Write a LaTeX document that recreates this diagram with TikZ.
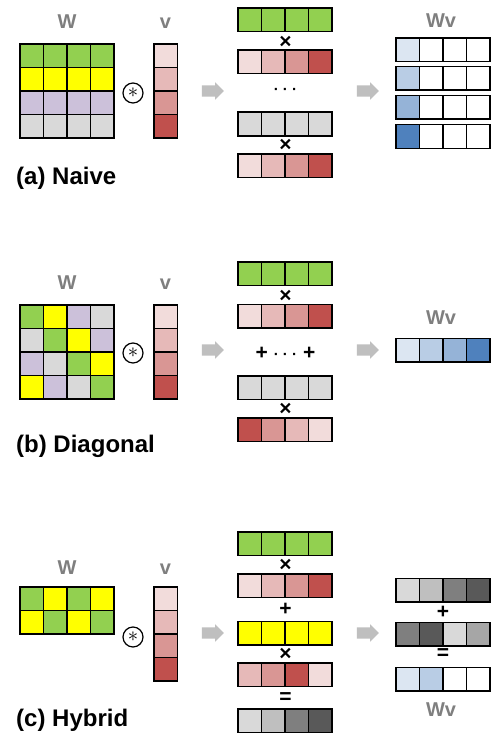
\documentclass[tikz,border=0pt]{standalone}
\usepackage{fontspec}
\setmainfont{Liberation Sans}
\usetikzlibrary{shapes.arrows, positioning}
\definecolor{wgreen}{HTML}{92D050}
\definecolor{wyellow}{HTML}{FFFF00}
\definecolor{wlav}{HTML}{CCC1DA}
\definecolor{wgray}{HTML}{D9D9D9}
\definecolor{pkA}{HTML}{F2DCDB}
\definecolor{pkB}{HTML}{E6B9B8}
\definecolor{pkC}{HTML}{D99694}
\definecolor{pkD}{HTML}{C0504D}
\definecolor{blA}{HTML}{DCE6F2}
\definecolor{blB}{HTML}{B9CDE5}
\definecolor{blC}{HTML}{95B3D7}
\definecolor{blD}{HTML}{4F81BD}
\definecolor{gyA}{HTML}{D9D9D9}
\definecolor{gyB}{HTML}{BFBFBF}
\definecolor{gyC}{HTML}{7F7F7F}
\definecolor{gyD}{HTML}{595959}
\definecolor{gyE}{HTML}{A6A6A6}
\definecolor{labelgray}{HTML}{7F7F7F}
\definecolor{arrowgray}{HTML}{BFBFBF}

% row of cells: name, left x, centre y, colours
\newcommand{\cellrow}[4]{\foreach \cl [count=\i] in {#4} {\node[cell, fill=\cl] (#1-\i) at ({#2+23.5*\i-11.75}, #3) {};}}
% column of cells: name, centre x, top y, colours
\newcommand{\cellcol}[4]{\foreach \cl [count=\i] in {#4} {\node[cell, fill=\cl] (#1-\i) at (#2, {#3+23.5*\i-11.75}) {};}}
% small dots
\newcommand{\vdotsrow}{{\fontsize{15}{15}\selectfont· · ·}}

\tikzset{
  cell/.style={draw=black, line width=1.5pt, minimum size=23.5pt, inner sep=0pt, outer sep=0pt},
  lbl/.style={text=labelgray, font=\fontsize{20}{20}\selectfont\bfseries},
  op/.style={font=\fontsize{21}{21}\selectfont\bfseries, inner sep=0pt},
  conv/.style={draw, circle, line width=1.2pt, minimum size=20pt, inner sep=0pt, font=\fontsize{22}{22}\selectfont},
  blockarrow/.style={single arrow, fill=arrowgray, minimum width=17pt, minimum height=22pt, single arrow head extend=3pt, inner sep=0pt},
  caption/.style={anchor=west, inner sep=0pt, font=\fontsize{24}{24}\selectfont\bfseries}
}

\begin{document}
\begin{tikzpicture}[x=1pt, y=-1pt]
  \useasboundingbox[fill=white] (0,0) rectangle (493,749);

  % (a) Naive
  \node[lbl] (a-wl) at (67,22) {W};
  \cellrow{a-w1}{20}{55.75}{wgreen,wgreen,wgreen,wgreen}
  \cellrow{a-w2}{20}{79.25}{wyellow,wyellow,wyellow,wyellow}
  \cellrow{a-w3}{20}{102.75}{wlav,wlav,wlav,wlav}
  \cellrow{a-w4}{20}{126.25}{wgray,wgray,wgray,wgray}
  \node[conv] (a-star) at (133,93) {$\ast$};
  \node[lbl] (a-vl) at (165.5,23) {v};
  \cellcol{a-v}{165.5}{44}{pkA,pkB,pkC,pkD}
  \node[blockarrow] (a-arr1) at (210,91) {\rule{0pt}{11pt}};

  \cellrow{a-r1}{238}{20}{wgreen,wgreen,wgreen,wgreen}
  \node[op] (a-x1) at (285.5,42) {×};
  \cellrow{a-p1}{238}{62}{pkA,pkB,pkC,pkD}
  \node[op] (a-dots) at (285.5,91) {\vdotsrow};
  \cellrow{a-r4}{238}{124}{wgray,wgray,wgray,wgray}
  \node[op] (a-x4) at (285.5,145) {×};
  \cellrow{a-p4}{238}{165.5}{pkA,pkB,pkC,pkD}
  \node[blockarrow] (a-arr2) at (365,91) {\rule{0pt}{11pt}};

  \node[lbl] (a-out) at (441,21) {Wv};
  \cellrow{a-o1}{396}{50}{blA,white,white,white}
  \cellrow{a-o2}{396}{78.5}{blB,white,white,white}
  \cellrow{a-o3}{396}{107.5}{blC,white,white,white}
  \cellrow{a-o4}{396}{136.5}{blD,white,white,white}
  \node[caption] (a-cap) at (16,178) {(a) Naive};

  % (b) Diagonal
  \node[lbl] (b-wl) at (67,283) {W};
  \cellrow{b-w1}{20}{316.75}{wgreen,wyellow,wlav,wgray}
  \cellrow{b-w2}{20}{340.25}{wgray,wgreen,wyellow,wlav}
  \cellrow{b-w3}{20}{363.75}{wlav,wgray,wgreen,wyellow}
  \cellrow{b-w4}{20}{387.25}{wyellow,wlav,wgray,wgreen}
  \node[conv] (b-star) at (133,353) {$\ast$};
  \node[lbl] (b-vl) at (165.5,284) {v};
  \cellcol{b-v}{165.5}{305}{pkA,pkB,pkC,pkD}
  \node[blockarrow] (b-arr1) at (210,350) {\rule{0pt}{11pt}};

  \cellrow{b-r1}{238}{273.5}{wgreen,wgreen,wgreen,wgreen}
  \node[op] (b-x1) at (285.5,296) {×};
  \cellrow{b-p1}{238}{316}{pkA,pkB,pkC,pkD}
  \node[op] (b-sum) at (285.5,353) {+\hspace{6pt}\vdotsrow\hspace{6pt}+};
  \cellrow{b-r4}{238}{387.5}{wgray,wgray,wgray,wgray}
  \node[op] (b-x4) at (285.5,409) {×};
  \cellrow{b-p4}{238}{429.5}{pkD,pkC,pkB,pkA}
  \node[blockarrow] (b-arr2) at (365,350) {\rule{0pt}{11pt}};

  \node[lbl] (b-out) at (441,318) {Wv};
  \cellrow{b-o}{396}{350}{blA,blB,blC,blD}
  \node[caption] (b-cap) at (16,446) {(b) Diagonal};

  % (c) Hybrid
  \node[lbl] (c-wl) at (67,568) {W};
  \cellrow{c-w1}{20}{598.75}{wgreen,wyellow,wgreen,wyellow}
  \cellrow{c-w2}{20}{622.25}{wyellow,wgreen,wyellow,wgreen}
  \node[conv] (c-star) at (133,637) {$\ast$};
  \node[lbl] (c-vl) at (165.5,569) {v};
  \cellcol{c-v}{165.5}{587}{pkA,pkB,pkC,pkD}
  \node[blockarrow] (c-arr1) at (210,633) {\rule{0pt}{11pt}};

  \cellrow{c-r1}{238}{543.5}{wgreen,wgreen,wgreen,wgreen}
  \node[op] (c-x1) at (285.5,565) {×};
  \cellrow{c-p1}{238}{585.5}{pkA,pkB,pkC,pkD}
  \node[op] (c-plus) at (285.5,609) {+};
  \cellrow{c-r2}{238}{633}{wyellow,wyellow,wyellow,wyellow}
  \node[op] (c-x2) at (285.5,654) {×};
  \cellrow{c-p2}{238}{674.5}{pkB,pkC,pkD,pkA}
  \node[op] (c-eq) at (285.5,698) {=};
  \cellrow{c-s}{238}{720.5}{gyA,gyB,gyC,gyD}
  \node[blockarrow] (c-arr2) at (365,633) {\rule{0pt}{11pt}};

  \cellrow{c-t1}{396}{590}{gyA,gyB,gyC,gyD}
  \node[op] (c-plus2) at (443,612) {+};
  \cellrow{c-t2}{396}{634}{gyC,gyD,gyA,gyE}
  \node[op] (c-eq2) at (443,654) {=};
  \cellrow{c-o}{396}{679}{blA,blB,white,white}
  \node[lbl] (c-out) at (441,710) {Wv};
  \node[caption] (c-cap) at (16,720) {(c) Hybrid};
\end{tikzpicture}
\end{document}
